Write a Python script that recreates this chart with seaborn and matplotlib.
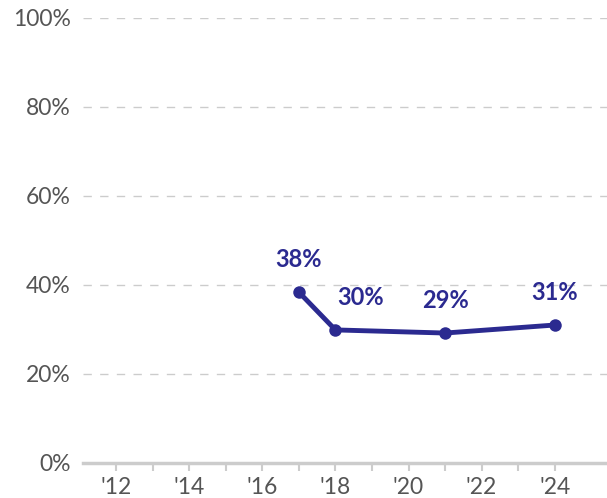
import matplotlib
matplotlib.use('Agg')
import matplotlib.pyplot as plt
import seaborn as sns
import pandas as pd

# data
years = [2017, 2018, 2021, 2024]
values = [38.4, 29.9, 29.2, 31.0]
labels = ['38%', '30%', '29%', '31%']
label_dx = [0, 0.7, 0, 0]   # 30% label sits to the right of its point

tick_years = list(range(2012, 2025))
tick_labels = ["'" + str(y)[2:] if y % 2 == 0 else '' for y in tick_years]
y_ticks = [0, 20, 40, 60, 80, 100]

sns.set_theme(style='white')
plt.rcParams['font.family'] = ['Lato', 'DejaVu Sans']

line_color = '#2b2a90'
text_gray = '#555555'

df = pd.DataFrame({'year': years, 'value': values})

fig = plt.figure(figsize=(6.07, 4.98), dpi=100)
ax = fig.add_axes([0.137, 0.0703, 0.863, 0.8937])

sns.lineplot(data=df, x='year', y='value', ax=ax, color=line_color,
             linewidth=3.5, marker='o', markersize=9, markeredgewidth=0)

for x, y, t, dx in zip(years, values, labels, label_dx):
    ax.annotate(t, (x + dx, y), xytext=(0, 15), textcoords='offset points',
                ha='center', va='bottom', fontsize=17, fontweight='bold',
                color=line_color)

ax.set_xlim(2011.1, 2025.43)
ax.set_ylim(0, 100)
ax.set_yticks(y_ticks)
ax.set_yticklabels([f'{v}%' for v in y_ticks])
ax.set_xticks(tick_years)
ax.set_xticklabels(tick_labels)
ax.set_xlabel('')
ax.set_ylabel('')

for v in y_ticks[1:]:
    ax.axhline(v, color='#cccccc', linewidth=1, dashes=(6, 6), zorder=0)

for s in ['top', 'right', 'left']:
    ax.spines[s].set_visible(False)
ax.spines['bottom'].set_color('#cccccc')
ax.spines['bottom'].set_linewidth(2.5)
ax.spines['bottom'].set_clip_on(False)

ax.tick_params(axis='x', which='both', bottom=True, length=6, width=1.5,
               color='#cccccc', labelsize=16.5, labelcolor=text_gray, pad=4)
ax.tick_params(axis='y', left=False, length=0, labelsize=16.5,
               labelcolor=text_gray, pad=9)

fig.savefig('out.png', dpi=100)
